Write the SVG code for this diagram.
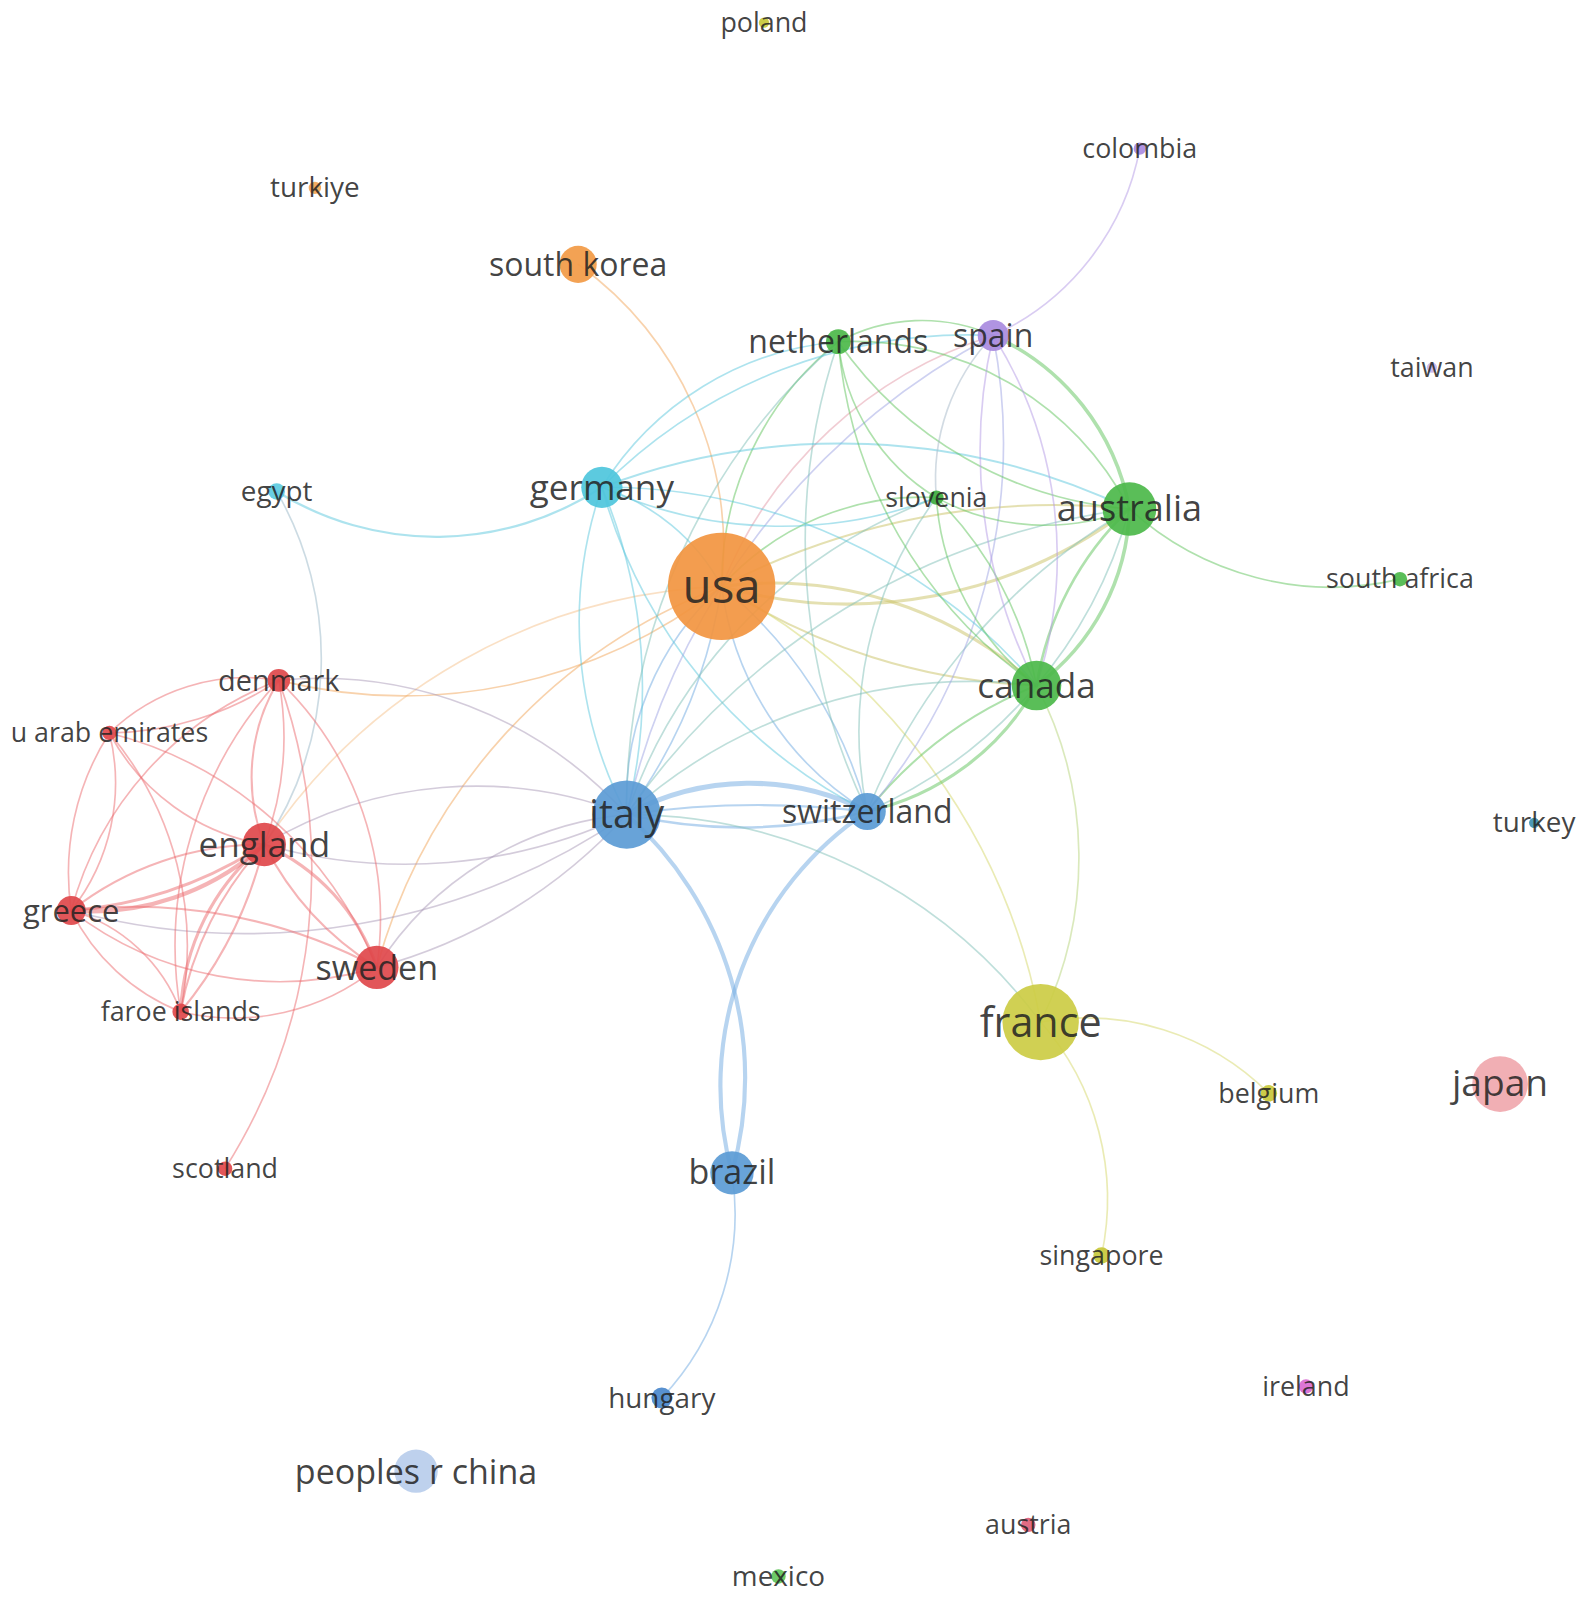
<svg xmlns="http://www.w3.org/2000/svg" width="1593" height="1619" viewBox="0 0 1593 1619">
<style>
.e{fill:none;stroke-linecap:round;stroke-opacity:0.5;stroke-width:1.6}
.r{stroke:#ec6a6d}.b{stroke:#6fa9e2}.c{stroke:#5cc8de}.g{stroke:#5fc45c}.p{stroke:#b49ae6}
.y{stroke:#d6d86a}.o{stroke:#f2a55a}.rb{stroke:#a99ab8}.og{stroke:#c9c264}.gb{stroke:#7fbfb8}
.op{stroke:#e49aa8}.pb{stroke:#9ea4e4}.gy{stroke:#b6d47a}.cr{stroke:#9ab8c8}.pg{stroke:#a6b8c8}
.n{fill-opacity:0.92}
.t{font-family:"Open Sans","Liberation Sans",sans-serif;fill:#222;fill-opacity:0.85;text-anchor:middle}
</style>
<rect width="1593" height="1619" fill="#ffffff"/>
<g transform="scale(1.0324)">
<g id="connectors">
<path class="e o" d="M560 256 A340 340 0 0 1 699 568"/>
<path class="e o" d="M365 937 A550 550 0 0 1 699 568"/>
<path class="e o" style="stroke-opacity:0.35" d="M256 818 A560 560 0 0 1 699 568"/>
<path class="e o" d="M270 659 A500 500 0 0 0 699 568"/>
<path class="e b" d="M699 568 A280 280 0 0 0 607 789"/>
<path class="e b" d="M699 568 A500 500 0 0 1 607 789"/>
<path class="e c" d="M583 472 A200 200 0 0 1 699 568"/>
<path class="e b" d="M699 568 A300 300 0 0 0 840 786"/>
<path class="e b" d="M699 568 A420 420 0 0 1 840 786"/>
<path class="e g" d="M812 331 A300 300 0 0 0 699 568"/>
<path class="e g" d="M907 482 A260 260 0 0 0 699 568"/>
<path class="e og" style="stroke-width:3" d="M699 568 A450 450 0 0 0 1094 493"/>
<path class="e og" style="stroke-width:2" d="M699 568 A700 700 0 0 1 1094 493"/>
<path class="e og" style="stroke-width:3" d="M699 568 A380 380 0 0 1 1004 664"/>
<path class="e og" style="stroke-width:2" d="M699 568 A600 600 0 0 0 1004 664"/>
<path class="e y" d="M699 568 A600 600 0 0 1 1008 990"/>
<path class="e op" d="M699 568 A420 420 0 0 1 962 325"/>
<path class="e b" style="stroke-width:4" d="M607 789 A340 340 0 0 1 709 1136"/>
<path class="e b" style="stroke-width:4" d="M709 1136 A320 320 0 0 1 840 786"/>
<path class="e b" style="stroke-width:5" d="M607 789 A250 250 0 0 1 840 786"/>
<path class="e b" style="stroke-width:2.5" d="M607 789 A500 500 0 0 0 840 786"/>
<path class="e b" style="stroke-width:2" d="M607 789 A900 900 0 0 1 840 786"/>
<path class="e c" d="M583 472 A400 400 0 0 0 607 789"/>
<path class="e c" d="M583 472 A500 500 0 0 1 607 789"/>
<path class="e c" d="M583 472 A500 500 0 0 0 840 786"/>
<path class="e gb" d="M607 789 A500 500 0 0 1 1008 990"/>
<path class="e rb" d="M256 818 A400 400 0 0 1 607 789"/>
<path class="e rb" d="M256 818 A500 500 0 0 0 607 789"/>
<path class="e rb" d="M365 937 A320 320 0 0 1 607 789"/>
<path class="e rb" d="M365 937 A500 500 0 0 0 607 789"/>
<path class="e rb" d="M270 659 A400 400 0 0 1 607 789"/>
<path class="e rb" d="M69 882 A650 650 0 0 0 607 789"/>
<path class="e gb" d="M607 789 A500 500 0 0 1 1004 664"/>
<path class="e gb" d="M607 789 A700 700 0 0 1 1094 493"/>
<path class="e gb" d="M812 331 A600 600 0 0 0 607 789"/>
<path class="e pb" d="M962 325 A700 700 0 0 0 607 789"/>
<path class="e gb" d="M907 482 A500 500 0 0 0 607 789"/>
<path class="e g" style="stroke-width:3" d="M840 786 A250 250 0 0 0 1004 664"/>
<path class="e g" style="stroke-width:2" d="M840 786 A400 400 0 0 1 1004 664"/>
<path class="e gb" d="M840 786 A450 450 0 0 0 1094 493"/>
<path class="e gb" d="M840 786 A600 600 0 0 1 1094 493"/>
<path class="e gb" d="M812 331 A600 600 0 0 0 840 786"/>
<path class="e pb" d="M962 325 A550 550 0 0 1 840 786"/>
<path class="e gb" d="M907 482 A380 380 0 0 0 840 786"/>
<path class="e b" d="M709 1136 A260 260 0 0 1 641 1354"/>
<path class="e c" style="stroke-width:2.2" d="M268 476 A293 293 0 0 0 583 472"/>
<path class="e cr" d="M268 476 A323 323 0 0 1 256 818"/>
<path class="e c" style="stroke-width:2" d="M583 472 A650 650 0 0 1 1094 493"/>
<path class="e c" d="M583 472 A550 550 0 0 1 1004 664"/>
<path class="e c" d="M583 472 A300 300 0 0 1 812 331"/>
<path class="e c" d="M583 472 A500 500 0 0 1 962 325"/>
<path class="e c" d="M583 472 A420 420 0 0 0 907 482"/>
<path class="e g" d="M812 331 A170 170 0 0 1 962 325"/>
<path class="e g" d="M812 331 A300 300 0 0 1 1094 493"/>
<path class="e g" d="M812 331 A380 380 0 0 0 1094 493"/>
<path class="e g" d="M812 331 A450 450 0 0 0 1004 664"/>
<path class="e g" d="M812 331 A200 200 0 0 0 907 482"/>
<path class="e g" d="M907 482 A220 220 0 0 0 1094 493"/>
<path class="e g" d="M907 482 A250 250 0 0 0 1004 664"/>
<path class="e g" d="M907 482 A350 350 0 0 1 1004 664"/>
<path class="e pg" d="M907 482 A200 200 0 0 1 962 325"/>
<path class="e g" style="stroke-width:3.5" d="M1094 493 A220 220 0 0 1 1004 664"/>
<path class="e g" style="stroke-width:2.5" d="M1094 493 A300 300 0 0 0 1004 664"/>
<path class="e g" style="stroke-width:3.5" d="M962 325 A230 230 0 0 1 1094 493"/>
<path class="e g" d="M1094 493 A290 290 0 0 0 1356 561"/>
<path class="e gy" d="M1004 664 A360 360 0 0 1 1008 990"/>
<path class="e p" d="M962 325 A400 400 0 0 1 1004 664"/>
<path class="e p" d="M962 325 A500 500 0 0 0 1004 664"/>
<path class="e p" d="M962 325 A250 250 0 0 0 1104 144"/>
<path class="e y" d="M1008 990 A250 250 0 0 1 1229 1059"/>
<path class="e y" d="M1008 990 A260 260 0 0 1 1067 1216"/>
<path class="e r" d="M106 710 A190 190 0 0 1 270 659"/>
<path class="e r" d="M106 710 A300 300 0 0 0 270 659"/>
<path class="e r" d="M270 659 A330 330 0 0 0 69 882"/>
<path class="e r" style="stroke-width:2" d="M270 659 A180 180 0 0 0 256 818"/>
<path class="e r" d="M270 659 A300 300 0 0 1 256 818"/>
<path class="e r" d="M270 659 A320 320 0 0 1 365 937"/>
<path class="e r" d="M270 659 A380 380 0 0 0 175 980"/>
<path class="e r" d="M270 659 A542 542 0 0 1 218 1132"/>
<path class="e r" d="M106 710 A210 210 0 0 0 256 818"/>
<path class="e r" d="M106 710 A200 200 0 0 1 69 882"/>
<path class="e r" d="M106 710 A250 250 0 0 0 69 882"/>
<path class="e r" d="M106 710 A380 380 0 0 1 365 937"/>
<path class="e r" d="M106 710 A320 320 0 0 1 175 980"/>
<path class="e r" style="stroke-width:4" d="M69 882 A250 250 0 0 0 256 818"/>
<path class="e r" style="stroke-width:3" d="M69 882 A400 400 0 0 0 256 818"/>
<path class="e r" style="stroke-width:2" d="M69 882 A300 300 0 0 1 256 818"/>
<path class="e r" style="stroke-width:3" d="M256 818 A200 200 0 0 1 365 937"/>
<path class="e r" style="stroke-width:2" d="M256 818 A300 300 0 0 0 365 937"/>
<path class="e r" style="stroke-width:3" d="M256 818 A220 220 0 0 0 175 980"/>
<path class="e r" style="stroke-width:2" d="M256 818 A320 320 0 0 0 175 980"/>
<path class="e r" style="stroke-width:2" d="M256 818 A400 400 0 0 1 175 980"/>
<path class="e r" d="M69 882 A330 330 0 0 0 365 937"/>
<path class="e r" style="stroke-width:2" d="M69 882 A500 500 0 0 1 365 937"/>
<path class="e r" d="M69 882 A160 160 0 0 1 175 980"/>
<path class="e r" d="M69 882 A200 200 0 0 0 175 980"/>
<path class="e r" d="M365 937 A220 220 0 0 1 175 980"/>
</g>
<g id="node-usa"><circle class="n" cx="699" cy="568" r="52" fill="#f29540"/><text class="t" x="699" y="584" font-size="46">usa</text></g>
<g id="node-south-korea"><circle class="n" cx="560" cy="256" r="18" fill="#f29a45"/><text class="t" x="560" y="267" font-size="31">south korea</text></g>
<g id="node-turkiye"><circle class="n" cx="305" cy="182" r="6" fill="#f2a555"/><text class="t" x="305" y="191" font-size="27">turkiye</text></g>
<g id="node-poland"><circle class="n" cx="740" cy="22" r="5" fill="#c8c83a"/><text class="t" x="740" y="31" font-size="26">poland</text></g>
<g id="node-colombia"><circle class="n" cx="1104" cy="144" r="6" fill="#a98be0"/><text class="t" x="1104" y="153" font-size="26">colombia</text></g>
<g id="node-netherlands"><circle class="n" cx="812" cy="331" r="12" fill="#4cb84a"/><text class="t" x="812" y="342" font-size="31">netherlands</text></g>
<g id="node-spain"><circle class="n" cx="962" cy="325" r="15" fill="#a98be0"/><text class="t" x="962" y="336" font-size="31">spain</text></g>
<g id="node-taiwan"><circle class="n" cx="1387" cy="356" r="5" fill="#c9b5ea"/><text class="t" x="1387" y="365" font-size="26">taiwan</text></g>
<g id="node-egypt"><circle class="n" cx="268" cy="476" r="8" fill="#5ccbe0"/><text class="t" x="268" y="485" font-size="27">egypt</text></g>
<g id="node-germany"><circle class="n" cx="583" cy="472" r="20" fill="#4ec5dc"/><text class="t" x="583" y="484" font-size="34">germany</text></g>
<g id="node-slovenia"><circle class="n" cx="907" cy="482" r="7" fill="#3fae3f"/><text class="t" x="907" y="491" font-size="26">slovenia</text></g>
<g id="node-australia"><circle class="n" cx="1094" cy="493" r="26" fill="#4cb84a"/><text class="t" x="1094" y="505" font-size="35">australia</text></g>
<g id="node-south-africa"><circle class="n" cx="1356" cy="561" r="7" fill="#4cb84a"/><text class="t" x="1356" y="570" font-size="26">south africa</text></g>
<g id="node-denmark"><circle class="n" cx="270" cy="659" r="11" fill="#e0484b"/><text class="t" x="270" y="669" font-size="28">denmark</text></g>
<g id="node-u-arab-emirates"><circle class="n" cx="106" cy="710" r="7" fill="#e0484b"/><text class="t" x="106" y="719" font-size="26">u arab emirates</text></g>
<g id="node-canada"><circle class="n" cx="1004" cy="664" r="24" fill="#4cb84a"/><text class="t" x="1004" y="676" font-size="34">canada</text></g>
<g id="node-italy"><circle class="n" cx="607" cy="789" r="33" fill="#5b9bd5"/><text class="t" x="607" y="802" font-size="38">italy</text></g>
<g id="node-switzerland"><circle class="n" cx="840" cy="786" r="18" fill="#5b9bd5"/><text class="t" x="840" y="797" font-size="31">switzerland</text></g>
<g id="node-england"><circle class="n" cx="256" cy="818" r="21" fill="#e0484b"/><text class="t" x="256" y="830" font-size="34">england</text></g>
<g id="node-turkey"><circle class="n" cx="1486" cy="797" r="5" fill="#3d8fae"/><text class="t" x="1486" y="806" font-size="27">turkey</text></g>
<g id="node-greece"><circle class="n" cx="69" cy="882" r="14" fill="#e0484b"/><text class="t" x="69" y="893" font-size="30">greece</text></g>
<g id="node-sweden"><circle class="n" cx="365" cy="937" r="21" fill="#e0484b"/><text class="t" x="365" y="949" font-size="33">sweden</text></g>
<g id="node-faroe-islands"><circle class="n" cx="175" cy="980" r="8" fill="#e0484b"/><text class="t" x="175" y="989" font-size="26">faroe islands</text></g>
<g id="node-france"><circle class="n" cx="1008" cy="990" r="37" fill="#cccc44"/><text class="t" x="1008" y="1004" font-size="40">france</text></g>
<g id="node-belgium"><circle class="n" cx="1229" cy="1059" r="8" fill="#c8c83a"/><text class="t" x="1229" y="1068" font-size="26">belgium</text></g>
<g id="node-japan"><circle class="n" cx="1453" cy="1050" r="27" fill="#f0a8ae"/><text class="t" x="1453" y="1062" font-size="36">japan</text></g>
<g id="node-scotland"><circle class="n" cx="218" cy="1132" r="7" fill="#e0484b"/><text class="t" x="218" y="1141" font-size="26">scotland</text></g>
<g id="node-brazil"><circle class="n" cx="709" cy="1136" r="21" fill="#5b9bd5"/><text class="t" x="709" y="1147" font-size="33">brazil</text></g>
<g id="node-singapore"><circle class="n" cx="1067" cy="1216" r="8" fill="#c8c83a"/><text class="t" x="1067" y="1225" font-size="26">singapore</text></g>
<g id="node-ireland"><circle class="n" cx="1265" cy="1343" r="7" fill="#d96ad3"/><text class="t" x="1265" y="1352" font-size="26">ireland</text></g>
<g id="node-hungary"><circle class="n" cx="641" cy="1354" r="10" fill="#4a88cc"/><text class="t" x="641" y="1364" font-size="27">hungary</text></g>
<g id="node-peoples-r-china"><circle class="n" cx="403" cy="1425" r="21" fill="#b9cdec"/><text class="t" x="403" y="1437" font-size="33">peoples r china</text></g>
<g id="node-austria"><circle class="n" cx="996" cy="1477" r="7" fill="#e0607a"/><text class="t" x="996" y="1486" font-size="26">austria</text></g>
<g id="node-mexico"><circle class="n" cx="754" cy="1527" r="7" fill="#5fc45a"/><text class="t" x="754" y="1536" font-size="27">mexico</text></g>
</g>
</svg>
